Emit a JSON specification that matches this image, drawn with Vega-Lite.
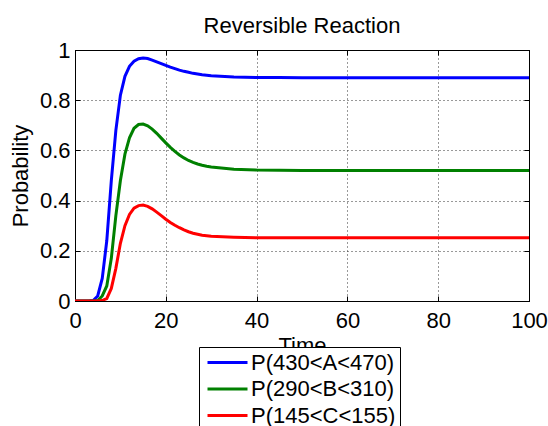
{
  "$schema": "https://vega.github.io/schema/vega-lite/v6.json",
  "width": 454,
  "height": 251,
  "autosize": {"type": "none"},
  "padding": {"left": 75, "top": 50, "right": 19, "bottom": 125},
  "background": "white",
  "title": {"text": "Reversible Reaction", "fontSize": 22, "fontWeight": "normal", "font": "Liberation Sans", "color": "black", "baseline": "alphabetic", "offset": 18, "dy": 34},
  "config": {
    "view": {"stroke": "black", "strokeWidth": 1},
    "axis": {"labelFont": "Liberation Sans", "labelFontSize": 22, "labelColor": "black", "titleFont": "Liberation Sans", "titleFontSize": 22, "titleFontWeight": "normal", "titleColor": "black", "domainColor": "black", "tickColor": "black", "tickSize": -5, "gridColor": "#333", "gridDash": [1, 3], "gridOpacity": 1, "labelFlush": false},
    "legend": {"orient": "none", "legendX": 124, "legendY": 297, "strokeColor": "black", "fillColor": "white", "padding": 4, "symbolType": "M-2,0H2", "symbolSize": 400, "symbolStrokeWidth": 3, "symbolOffset": 13, "labelFontSize": 22, "labelFont": "Liberation Sans", "labelColor": "black", "rowPadding": 3.5, "labelOffset": 12, "labelLimit": 0}
  },
  "data": {"values": [
    {"t": 0, "P(430<A<470)": 0, "P(290<B<310)": 0, "P(145<C<155)": 0},
    {"t": 1, "P(430<A<470)": 0, "P(290<B<310)": 0, "P(145<C<155)": 0},
    {"t": 2, "P(430<A<470)": 0, "P(290<B<310)": 0, "P(145<C<155)": 0},
    {"t": 3, "P(430<A<470)": 0, "P(290<B<310)": 0, "P(145<C<155)": 0},
    {"t": 4, "P(430<A<470)": 0.002, "P(290<B<310)": 0, "P(145<C<155)": 0},
    {"t": 5, "P(430<A<470)": 0.02, "P(290<B<310)": 0.002, "P(145<C<155)": 0},
    {"t": 6, "P(430<A<470)": 0.09, "P(290<B<310)": 0.02, "P(145<C<155)": 0.002},
    {"t": 7, "P(430<A<470)": 0.24, "P(290<B<310)": 0.06, "P(145<C<155)": 0.01},
    {"t": 8, "P(430<A<470)": 0.48, "P(290<B<310)": 0.17, "P(145<C<155)": 0.05},
    {"t": 9, "P(430<A<470)": 0.68, "P(290<B<310)": 0.34, "P(145<C<155)": 0.13},
    {"t": 10, "P(430<A<470)": 0.82, "P(290<B<310)": 0.48, "P(145<C<155)": 0.23},
    {"t": 11, "P(430<A<470)": 0.895, "P(290<B<310)": 0.585, "P(145<C<155)": 0.3},
    {"t": 12, "P(430<A<470)": 0.935, "P(290<B<310)": 0.65, "P(145<C<155)": 0.345},
    {"t": 13, "P(430<A<470)": 0.955, "P(290<B<310)": 0.688, "P(145<C<155)": 0.37},
    {"t": 14, "P(430<A<470)": 0.965, "P(290<B<310)": 0.703, "P(145<C<155)": 0.38},
    {"t": 15, "P(430<A<470)": 0.968, "P(290<B<310)": 0.705, "P(145<C<155)": 0.382},
    {"t": 16, "P(430<A<470)": 0.966, "P(290<B<310)": 0.698, "P(145<C<155)": 0.377},
    {"t": 17, "P(430<A<470)": 0.96, "P(290<B<310)": 0.685, "P(145<C<155)": 0.367},
    {"t": 18, "P(430<A<470)": 0.953, "P(290<B<310)": 0.668, "P(145<C<155)": 0.354},
    {"t": 19, "P(430<A<470)": 0.946, "P(290<B<310)": 0.649, "P(145<C<155)": 0.34},
    {"t": 20, "P(430<A<470)": 0.939, "P(290<B<310)": 0.63, "P(145<C<155)": 0.326},
    {"t": 21, "P(430<A<470)": 0.932, "P(290<B<310)": 0.612, "P(145<C<155)": 0.313},
    {"t": 22, "P(430<A<470)": 0.926, "P(290<B<310)": 0.596, "P(145<C<155)": 0.302},
    {"t": 23, "P(430<A<470)": 0.92, "P(290<B<310)": 0.582, "P(145<C<155)": 0.292},
    {"t": 24, "P(430<A<470)": 0.915, "P(290<B<310)": 0.57, "P(145<C<155)": 0.283},
    {"t": 25, "P(430<A<470)": 0.911, "P(290<B<310)": 0.56, "P(145<C<155)": 0.276},
    {"t": 26, "P(430<A<470)": 0.907, "P(290<B<310)": 0.552, "P(145<C<155)": 0.27},
    {"t": 27, "P(430<A<470)": 0.904, "P(290<B<310)": 0.546, "P(145<C<155)": 0.266},
    {"t": 28, "P(430<A<470)": 0.901, "P(290<B<310)": 0.541, "P(145<C<155)": 0.262},
    {"t": 29, "P(430<A<470)": 0.899, "P(290<B<310)": 0.537, "P(145<C<155)": 0.26},
    {"t": 30, "P(430<A<470)": 0.897, "P(290<B<310)": 0.534, "P(145<C<155)": 0.258},
    {"t": 35, "P(430<A<470)": 0.892, "P(290<B<310)": 0.525, "P(145<C<155)": 0.254},
    {"t": 40, "P(430<A<470)": 0.89, "P(290<B<310)": 0.522, "P(145<C<155)": 0.252},
    {"t": 45, "P(430<A<470)": 0.89, "P(290<B<310)": 0.521, "P(145<C<155)": 0.252},
    {"t": 50, "P(430<A<470)": 0.889, "P(290<B<310)": 0.52, "P(145<C<155)": 0.252},
    {"t": 60, "P(430<A<470)": 0.889, "P(290<B<310)": 0.52, "P(145<C<155)": 0.252},
    {"t": 70, "P(430<A<470)": 0.889, "P(290<B<310)": 0.52, "P(145<C<155)": 0.252},
    {"t": 80, "P(430<A<470)": 0.889, "P(290<B<310)": 0.52, "P(145<C<155)": 0.252},
    {"t": 90, "P(430<A<470)": 0.889, "P(290<B<310)": 0.52, "P(145<C<155)": 0.252},
    {"t": 100, "P(430<A<470)": 0.889, "P(290<B<310)": 0.52, "P(145<C<155)": 0.252}
  ]},
  "transform": [{"fold": ["P(430<A<470)", "P(290<B<310)", "P(145<C<155)"], "as": ["series", "p"]}],
  "layer": [
    {
      "mark": {"type": "line", "strokeWidth": 3, "clip": true},
      "encoding": {
        "x": {"field": "t", "type": "quantitative", "scale": {"domain": [0, 100], "nice": false},
              "axis": {"values": [0, 20, 40, 60, 80, 100], "title": "Time", "grid": true, "labelPadding": 14, "titlePadding": 4}},
        "y": {"field": "p", "type": "quantitative", "scale": {"domain": [0, 1], "nice": false},
              "axis": {"values": [0, 0.2, 0.4, 0.6, 0.8, 1], "format": "~g", "title": "Probability", "grid": true, "labelPadding": 10, "titlePadding": 7}},
        "color": {"field": "series", "type": "nominal",
                  "scale": {"domain": ["P(430<A<470)", "P(290<B<310)", "P(145<C<155)"], "range": ["#0000ff", "#008000", "#ff0000"]},
                  "legend": {"title": null}}
      }
    },
    {
      "mark": {"type": "line", "opacity": 0},
      "encoding": {
        "x": {"field": "t", "type": "quantitative", "axis": {"orient": "top", "values": [0, 20, 40, 60, 80, 100], "labels": false, "title": null, "grid": false}},
        "y": {"field": "p", "type": "quantitative", "axis": {"orient": "right", "values": [0, 0.2, 0.4, 0.6, 0.8, 1], "labels": false, "title": null, "grid": false}},
        "detail": {"field": "series", "type": "nominal"}
      }
    }
  ],
  "resolve": {"axis": {"x": "independent", "y": "independent"}}
}
